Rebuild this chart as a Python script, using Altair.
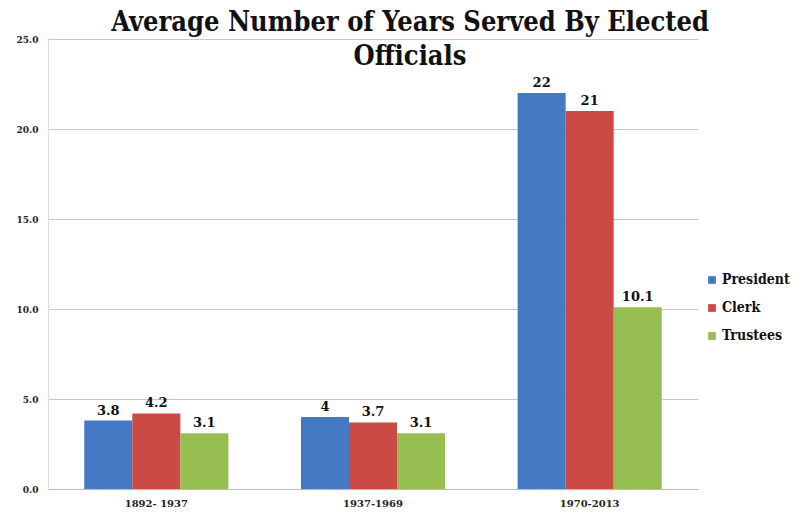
import altair as alt
import pandas as pd

periods = ["1892- 1937", "1937-1969", "1970-2013"]
roles = ["President", "Clerk", "Trustees"]
president = [3.8, 4.0, 22]
clerk = [4.2, 3.7, 21]
trustees = [3.1, 3.1, 10.1]
labels_p = ["3.8", "4", "22"]
labels_c = ["4.2", "3.7", "21"]
labels_t = ["3.1", "3.1", "10.1"]
colors = ["#4479C4", "#CC4A46", "#97BE50"]

rows = []
for i, p in enumerate(periods):
    for r, vals, labs in zip(roles, [president, clerk, trustees], [labels_p, labels_c, labels_t]):
        rows.append({"period": p, "role": r, "years": vals[i], "label": labs[i]})
df = pd.DataFrame(rows)

font = "DejaVu Serif"
title_font = "DejaVu Serif Condensed, DejaVu Serif"

x = alt.X("period:N", sort=periods, title=None,
          scale=alt.Scale(paddingInner=0.335, paddingOuter=0.1675),
          axis=alt.Axis(labelAngle=0, labelFont=font, labelFontWeight="bold", labelFontSize=10,
                        labelColor="#222", ticks=False, domain=True, domainColor="#bbb",
                        grid=False, labelPadding=9))
xo = alt.XOffset("role:N", sort=roles, scale=alt.Scale(paddingInner=0, paddingOuter=0))
y = alt.Y("years:Q", title=None,
          scale=alt.Scale(domain=[0, 25]),
          axis=alt.Axis(values=[0, 5, 10, 15, 20, 25], format=".1f", labelFont=font,
                        labelFontWeight="bold", labelFontSize=9, labelColor="#222",
                        ticks=False, domain=True, domainColor="#ddd", gridColor="#c8c8c8",
                        labelPadding=10))

bars = alt.Chart(df).mark_bar().encode(
    x=x, xOffset=xo, y=y,
    color=alt.Color("role:N", sort=roles, scale=alt.Scale(domain=roles, range=colors),
                    legend=alt.Legend(title=None, orient="none", legendX=657, legendY=234,
                                      symbolType="square", symbolSize=60,
                                      symbolStrokeWidth=0, labelFont=title_font,
                                      labelFontWeight="bold", labelFontSize=14,
                                      labelColor="#111", rowPadding=14, labelOffset=3)),
)

text = alt.Chart(df).mark_text(dy=-10, font=font, fontWeight="bold", fontSize=13,
                               color="#111").encode(
    x=x, xOffset=xo, y=y, text="label:N"
)

chart = alt.layer(bars, text).properties(
    width=650, height=450,
    title=alt.TitleParams(["Average Number of Years Served By Elected", "Officials"],
                          font=title_font, fontWeight="bold", fontSize=27, color="#111",
                          anchor="middle", dx=37, lineHeight=34, offset=-36),
    autosize=alt.AutoSizeParams(type="none"),
    padding={"left": 48, "top": 39, "right": 103, "bottom": 25},
    background="white",
).configure_view(stroke=None)

chart.save("out.html", embed_options={"renderer": "svg", "actions": False})
